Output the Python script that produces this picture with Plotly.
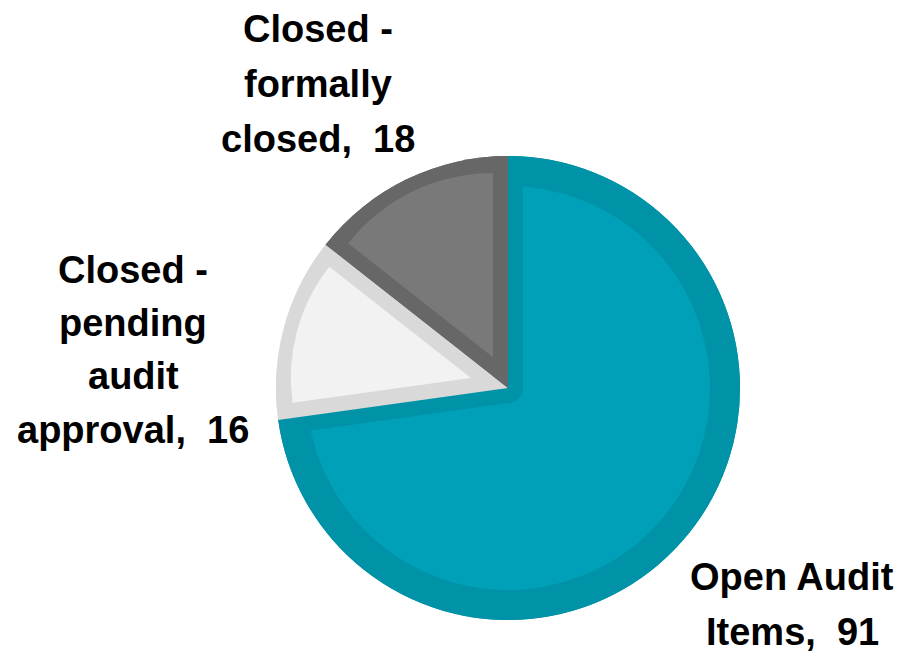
import math
import plotly.graph_objects as go

# ---- data ----
categories = ["Open Audit Items", "Closed - pending audit approval", "Closed - formally closed"]
values = [91, 16, 18]
label_lines = [["Open Audit", "Items,"], ["Closed -", "pending", "audit", "approval,"], ["Closed -", "formally", "closed,"]]

# ---- styles ----
fill_colors = ["#00A0B8", "#F2F2F2", "#797979"]
border_colors = ["#0092A7", "#D9D9D9", "#676767"]
TRANSP = "rgba(0,0,0,0)"

W, H = 901, 660
CX, CY = 508, 388      # pie centre in px
R = 232                # outer radius in px
B = 15                 # inner border thickness in px

# label layout: centre x, first baseline, line spacing (px)
label_pos = [(792, 590, 55), (133, 283, 53.3), (318, 42, 55)]


def dom(rb):
    return dict(x=[(CX - rb) / W, (CX + rb) / W], y=[(H - CY - rb) / H, (H - CY + rb) / H])


common = dict(labels=categories, values=values, sort=False, direction="clockwise",
              rotation=0, textinfo="none", hoverinfo="skip", showlegend=False)

fig = go.Figure()

# 1) full pie in border colours
fig.add_trace(go.Pie(domain=dom(R), marker=dict(colors=border_colors, line=dict(width=0)), **common))

# 2) first slice fill with stroke forming its inner border
n = len(values)
cols = [fill_colors[0]] + [TRANSP] * (n - 1)
lcols = [border_colors[0]] + [TRANSP] * (n - 1)
lw = [2 * B] + [0] * (n - 1)
fig.add_trace(go.Pie(domain=dom(R - B), marker=dict(colors=cols, line=dict(color=lcols, width=lw)), **common))

# 3) redraw other slices' border colour to cover stroke spill
cols = [TRANSP] + border_colors[1:]
fig.add_trace(go.Pie(domain=dom(R), marker=dict(colors=cols, line=dict(width=0)), **common))

# 4) inset fills of the other slices (pulled so radial edges sit B px inside)
total = sum(values)
for i in range(1, n):
    half = math.pi * values[i] / total
    s = B / math.sin(half)
    r = R - B - s + 1.5
    p = s / r
    cols = [TRANSP] * n
    cols[i] = fill_colors[i]
    pulls = [0] * n
    pulls[i] = p
    fig.add_trace(go.Pie(domain=dom(r * (1 + p)), pull=pulls,
                         marker=dict(colors=cols, line=dict(width=0)), **common))

# labels
FS = 38
annotations = []
for lines, v, (lx, b0, dy) in zip(label_lines, values, label_pos):
    for k, line in enumerate(lines):
        txt = line + ("\u00a0 " + str(v) if k == len(lines) - 1 else "")
        base = b0 + k * dy
        annotations.append(dict(x=lx / W, y=1 - (base - 13.2) / H, xref="paper", yref="paper",
                                text=txt, showarrow=False, xanchor="center", yanchor="middle",
                                font=dict(family="Liberation Sans, Arial, sans-serif", size=FS,
                                          color="#000000", weight="bold")))

fig.update_layout(width=W, height=H, margin=dict(l=0, r=0, t=0, b=0),
                  paper_bgcolor="white", plot_bgcolor="white", annotations=annotations)

fig.write_html("out.html")
